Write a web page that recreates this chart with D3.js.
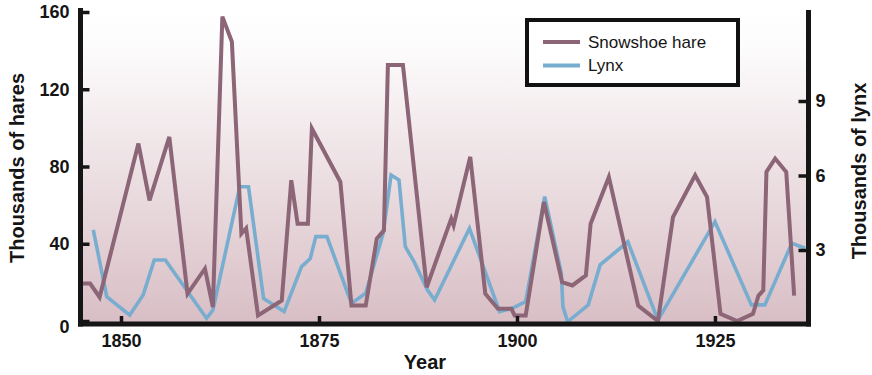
<!DOCTYPE html>
<html>
<head>
<meta charset="utf-8">
<script src="https://cdn.jsdelivr.net/npm/d3@7"></script>
<style>
  html, body { margin: 0; padding: 0; background: #ffffff; }
  svg { display: block; }
  text { font-family: "Liberation Sans", Arial, sans-serif; fill: #151515; }
</style>
</head>
<body>
<svg id="chart" width="872" height="375"></svg>
<script>
// ---- data ----
const hareYears = [1845, 1846.1, 1847.3, 1852.2, 1853.6, 1856.1, 1858.4, 1860.6, 1861.6, 1862.8,
  1864.0, 1865.2, 1865.8, 1867.3, 1870.3, 1871.5, 1872.3, 1873.6, 1874.1, 1877.7,
  1879.1, 1880.9, 1882.3, 1883.2, 1883.7, 1885.6, 1888.6, 1891.7, 1892.0, 1894.1,
  1896.0, 1897.6, 1899.3, 1899.7, 1901.1, 1903.4, 1905.7, 1907.0, 1908.7, 1909.3,
  1911.6, 1915.3, 1917.8, 1919.7, 1922.5, 1924.0, 1925.7, 1927.8, 1929.8, 1930.5,
  1931.1, 1931.5, 1932.6, 1934.0, 1935.0];
const hareValues = [19.4, 19.4, 12.3, 91.9, 62.5, 95.3, 14.1, 27.1, 7.2, 157.6,
  144.6, 45.2, 48.0, 2.9, 10.6, 72.9, 50.4, 50.4, 99.7, 72.0,
  8.0, 8.0, 42.6, 46.9, 132.5, 132.5, 17.5, 53.0, 49.5, 85.0,
  14.1, 6.3, 6.3, 2.9, 2.9, 61.6, 20.1, 18.4, 23.6, 50.4,
  74.6, 8.0, 0.0, 53.8, 75.5, 64.2, 3.7, 0.0, 3.7, 13.2,
  15.8, 77.2, 84.1, 77.2, 13.2];

const lynxYears = [1846.5, 1848.2, 1851.1, 1852.8, 1854.2, 1855.6, 1860.8, 1861.6, 1865.0, 1866.1,
  1868.0, 1870.6, 1872.8, 1873.9, 1874.6, 1876.0, 1879.1, 1880.9, 1883.1, 1884.1,
  1885.1, 1885.9, 1887.0, 1888.7, 1889.6, 1894.0, 1897.8, 1899.4, 1901.1, 1903.5,
  1905.6, 1905.8, 1906.4, 1909.0, 1910.5, 1914.0, 1917.8, 1925.0, 1929.6, 1931.3,
  1934.7, 1936.4];
const lynxValues = [3.81, 1.12, 0.38, 1.19, 2.6, 2.6, 0.25, 0.58, 5.55, 5.55,
  1.05, 0.52, 2.33, 2.66, 3.54, 3.54, 0.85, 1.26, 3.67, 6.02,
  5.82, 3.13, 2.53, 1.39, 0.99, 3.87, 0.52, 0.65, 0.92, 5.15,
  2.06, 0.72, 0.11, 0.79, 2.4, 3.33, 0.18, 4.14, 0.79, 0.79,
  3.27, 3.07];

const xTicks = [1850, 1875, 1900, 1925];
const hareTicks = [0, 40, 80, 120, 160];
const lynxTicks = [3, 6, 9];
const seriesNames = ["Snowshoe hare", "Lynx"];
const seriesColors = ["#8c6577", "#79add0"];

// ---- layout ----
const svg = d3.select("#chart");
const x = d3.scaleLinear().domain([1845, 1937]).range([81.4, 810]);
const yHare = d3.scaleLinear().domain([0, 160]).range([321, 12]);
const yLynx = d3.scaleLinear().domain([0, 12]).range([324.5, 26.5]);

const leftX = 80.5, rightX = 808.5, bottomY = 324, topY = 8;

// background gradient
const defs = svg.append("defs");
const grad = defs.append("linearGradient").attr("id", "bg")
  .attr("x1", 0).attr("y1", 0).attr("x2", 0).attr("y2", 1);
grad.append("stop").attr("offset", "0%").attr("stop-color", "#ffffff");
grad.append("stop").attr("offset", "12%").attr("stop-color", "#fdfcfc");
grad.append("stop").attr("offset", "100%").attr("stop-color", "#d8bec5");
svg.append("rect").attr("x", leftX).attr("y", topY)
  .attr("width", rightX - leftX).attr("height", bottomY - topY)
  .attr("fill", "url(#bg)");

// lines
const hareData = hareYears.map((yr, i) => [yr, hareValues[i]]);
const lynxData = lynxYears.map((yr, i) => [yr, lynxValues[i]]);

svg.append("path").datum(lynxData)
  .attr("fill", "none").attr("stroke", seriesColors[1]).attr("stroke-width", 3.6)
  .attr("stroke-linejoin", "miter")
  .attr("d", d3.line().x(d => x(d[0])).y(d => yLynx(d[1])));

svg.append("path").datum(hareData)
  .attr("fill", "none").attr("stroke", seriesColors[0]).attr("stroke-width", 4)
  .attr("stroke-linejoin", "miter")
  .attr("d", d3.line().x(d => x(d[0])).y(d => yHare(d[1])));

// axes
const axisColor = "#151515";
const gL = svg.append("g").attr("transform", `translate(${leftX},0)`)
  .call(d3.axisLeft(yHare).tickValues(hareTicks).tickSizeInner(-9).tickSizeOuter(0).tickPadding(11));
const gR = svg.append("g").attr("transform", `translate(${rightX},0)`)
  .call(d3.axisRight(yLynx).tickValues(lynxTicks).tickSizeInner(-10).tickSizeOuter(0).tickPadding(7));
const gB = svg.append("g").attr("transform", `translate(0,${bottomY})`)
  .call(d3.axisBottom(x).tickValues(xTicks).tickFormat(d3.format("d")).tickSizeInner(-8).tickSizeOuter(0).tickPadding(10));

[gL, gR, gB].forEach(g => {
  g.select(".domain").remove();
  g.selectAll(".tick line").attr("stroke", axisColor).attr("stroke-width", 3.5);
  g.selectAll(".tick text").attr("font-size", 18).attr("font-weight", "bold")
    .attr("fill", axisColor).style("font-family", "'Liberation Sans', Arial, sans-serif");
});
gL.selectAll(".tick").filter(d => d === 0).select("text").attr("dy", "0.62em");

// axis lines
svg.append("line").attr("x1", leftX).attr("x2", leftX).attr("y1", topY).attr("y2", bottomY + 2.5)
  .attr("stroke", axisColor).attr("stroke-width", 5);
svg.append("line").attr("x1", rightX).attr("x2", rightX).attr("y1", 10).attr("y2", bottomY + 2.5)
  .attr("stroke", axisColor).attr("stroke-width", 5);
svg.append("line").attr("x1", leftX - 2.5).attr("x2", rightX + 2.5).attr("y1", bottomY).attr("y2", bottomY)
  .attr("stroke", axisColor).attr("stroke-width", 5);

// axis titles
svg.append("text").attr("transform", "translate(24,168) rotate(-90)")
  .attr("text-anchor", "middle").attr("font-size", 20).attr("font-weight", "bold")
  .text("Thousands of hares");
svg.append("text").attr("transform", "translate(866,171) rotate(-90)")
  .attr("text-anchor", "middle").attr("font-size", 20).attr("font-weight", "bold")
  .text("Thousands of lynx");
svg.append("text").attr("x", 425).attr("y", 369)
  .attr("text-anchor", "middle").attr("font-size", 20).attr("font-weight", "bold")
  .text("Year");

// legend
const lg = svg.append("g");
lg.append("rect").attr("x", 527).attr("y", 20).attr("width", 211).attr("height", 65)
  .attr("fill", "#ffffff").attr("stroke", "#111111").attr("stroke-width", 4);
seriesNames.forEach((name, i) => {
  const cy = 42 + i * 23.5;
  lg.append("line").attr("x1", 543).attr("x2", 580).attr("y1", cy).attr("y2", cy)
    .attr("stroke", seriesColors[i]).attr("stroke-width", 4);
  lg.append("text").attr("x", 588).attr("y", cy).attr("dy", "0.35em")
    .attr("font-size", 17).text(name);
});
</script>
</body>
</html>
